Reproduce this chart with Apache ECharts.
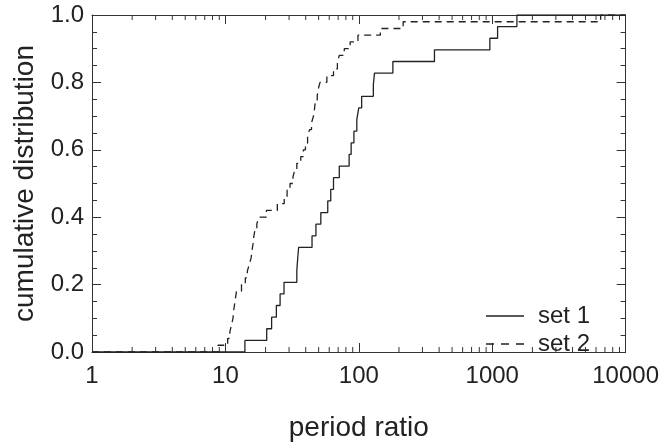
<!DOCTYPE html>
<html><head><meta charset="utf-8">
<script src="https://cdn.jsdelivr.net/npm/echarts@6/dist/echarts.min.js"></script>
<style>html,body{margin:0;padding:0;background:#fff}#c{width:662px;height:447px}</style>
</head><body><div id="c"></div>
<script>
// sorted sample values (period ratio)
const set1 = [14, 20.4, 22.2, 24.1, 25.7, 27.5, 34.3, 34.8, 35.4, 44.6, 47.7, 51.9, 58.5, 61.6, 64.6, 71.4, 84.6, 87.6, 91.9, 96.6, 99.9, 105, 128.5, 131, 180, 369, 960, 1097, 1531];
const set2 = [8.8, 10.4, 10.8, 11.1, 11.4, 11.5, 11.7, 11.9, 12.1, 13.2, 14.1, 14.6, 15.1, 15.6, 15.8, 16.1, 16.3, 16.6, 17.2, 17.8, 20.3, 24.5, 27.6, 29.0, 30.5, 32.1, 33.1, 34.3, 36.7, 38.4, 39.8, 41.3, 42.7, 44.2, 45.7, 46.5, 47.1, 48.8, 49.6, 51.2, 57.6, 64.6, 69.1, 71.4, 77.8, 86.1, 98.5, 145, 215, 6500];
const seriesNames = ['set 1', 'set 2'];
const xMin = 1, xMax = 10000;
const yTickLabels = ['0.0', '0.2', '0.4', '0.6', '0.8', '1.0'];
const xMinorTicks = [2,3,4,5,6,7,8,9,20,30,40,50,60,70,80,90,200,300,400,500,600,700,800,900,2000,3000,4000,5000,6000,7000,8000,9000];

function cdf(vals) {
  const n = vals.length;
  const pts = [[xMin, 0]];
  vals.forEach((v, i) => pts.push([v, (i + 1) / n]));
  pts.push([xMax, 1]);
  return pts;
}

const ink = '#222';
const font = 'Liberation Sans, Arial, Helvetica, sans-serif';
const chart = echarts.init(document.getElementById('c'), null, {renderer: 'canvas'});

const xBase = {
  type: 'log', logBase: 10, min: xMin, max: xMax,
  axisLine: {show: true, onZero: false, lineStyle: {color: '#333', width: 1}},
  axisTick: {show: true, inside: true, length: 9, lineStyle: {color: '#333'}},
  splitLine: {show: false}
};
const yBase = {
  type: 'value', min: 0, max: 1, interval: 0.2,
  axisLine: {show: true, lineStyle: {color: '#333', width: 1}},
  axisTick: {show: true, inside: true, length: 9, lineStyle: {color: '#333'}},
  minorTick: {show: true, splitNumber: 4, length: 5, lineStyle: {color: '#333'}},
  splitLine: {show: false}, minorSplitLine: {show: false}
};

chart.setOption({
  animation: false,
  backgroundColor: '#fff',
  textStyle: {fontFamily: font},
  grid: {left: 92, right: 30, top: 15, bottom: 93, containLabel: false},
  xAxis: [
    Object.assign({}, xBase, {
      position: 'bottom',
      axisLabel: {show: true, color: ink, fontSize: 24, fontFamily: font, margin: 12,
        formatter: (v) => String(Math.round(v))},
      name: 'period ratio', nameLocation: 'middle', nameGap: 62,
      nameTextStyle: {color: ink, fontSize: 28, fontFamily: font}
    }),
    Object.assign({}, xBase, {position: 'top', axisLabel: {show: false}})
  ],
  yAxis: [
    Object.assign({}, yBase, {
      position: 'left',
      axisLabel: {show: true, color: ink, fontSize: 24, fontFamily: font, margin: 8,
        formatter: (v) => yTickLabels[Math.round(v / 0.2)]},
      name: 'cumulative distribution', nameLocation: 'middle', nameGap: 43, nameRotate: 90,
      nameTextStyle: {color: ink, fontSize: 28, fontFamily: font}
    }),
    Object.assign({}, yBase, {position: 'right', axisLabel: {show: false}})
  ],
  legend: {
    show: true, orient: 'vertical', left: 481, top: 299,
    itemWidth: 38, itemHeight: 14, itemGap: 4, symbolKeepAspect: true,
    itemStyle: {color: ink},
    data: [
      {name: seriesNames[0], icon: 'path://M0,6h38v1.4h-38z'},
      {name: seriesNames[1], icon: 'path://M0,6h8v1.4h-8z M15,6h8v1.4h-8z M30,6h8v1.4h-8z'}
    ],
    textStyle: {color: ink, fontSize: 24, fontFamily: font, padding: [0, 0, 0, 9]}
  },
  series: [
    {
      name: seriesNames[0], type: 'line', step: 'end', data: cdf(set1),
      symbol: 'none', xAxisIndex: 0, yAxisIndex: 0,
      lineStyle: {color: ink, width: 1.3, type: 'solid'}, itemStyle: {color: ink}
    },
    {
      name: seriesNames[1], type: 'line', step: 'end', data: cdf(set2),
      symbol: 'none', xAxisIndex: 0, yAxisIndex: 0,
      lineStyle: {color: ink, width: 1.3, type: [7, 5]}, itemStyle: {color: ink}
    },
    {
      name: 'minor', type: 'custom', xAxisIndex: 0, yAxisIndex: 0, silent: true,
      data: xMinorTicks.map(v => [v]),
      renderItem: function (params, api) {
        const v = api.value(0);
        const b = api.coord([v, 0]);
        const t = api.coord([v, 1]);
        const st = {stroke: '#333', lineWidth: 1};
        return {type: 'group', children: [
          {type: 'line', shape: {x1: b[0], y1: b[1], x2: b[0], y2: b[1] - 5}, style: st},
          {type: 'line', shape: {x1: t[0], y1: t[1], x2: t[0], y2: t[1] + 5}, style: st}
        ]};
      }
    }
  ]
});
</script>
</body></html>
